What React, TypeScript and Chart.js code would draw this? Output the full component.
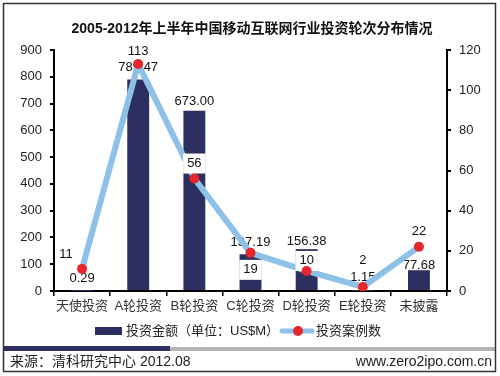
import React, { useEffect, useRef } from "react";
import { Chart, registerables } from "chart.js";

Chart.register(...registerables);

const title = "2005-2012年上半年中国移动互联网行业投资轮次分布情况";
const categories = ["天使投资", "A轮投资", "B轮投资", "C轮投资", "D轮投资", "E轮投资", "未披露"];
const amounts = [0.29, 789.47, 673.0, 137.19, 156.38, 1.15, 77.68];
const cases = [11, 113, 56, 19, 10, 2, 22];
const amountLabel = "投资金额（单位：US$M）";
const casesLabel = "投资案例数";
const leftMax = 900;
const leftStep = 100;
const rightMax = 120;
const rightStep = 20;
const sourceText = "来源：清科研究中心 2012.08";
const siteText = "www.zero2ipo.com.cn";

// label offsets (style only)
const barLabelDy = [-13, -12, -9, -12, -8, -13, -5];
const lineLabelDx = [-16, 0, 0, 0, 0, 0, 0];
const lineLabelDy = [-14, -13, -15, 17, -10, -27, -15];

const FONT = '"Liberation Sans", Arial, "Noto Sans CJK SC", sans-serif';
const NAVY = "#2c2f5f";
const BLUE = "#8ec1e8";
const RED = "#e5262b";

export default function App() {
  const ref = useRef<HTMLCanvasElement | null>(null);

  useEffect(() => {
    const canvas = ref.current;
    if (!canvas) return;

    const decor = {
      id: "decor",
      beforeDraw(chart: any) {
        const ctx = chart.ctx;
        ctx.save();
        ctx.fillStyle = "#fff";
        ctx.fillRect(0, 0, chart.width, chart.height);
        ctx.restore();
      },
      afterDatasetDraw(chart: any, args: any) {
        const ctx = chart.ctx;
        if (args.index === 0) {
          const meta = chart.getDatasetMeta(0);
          ctx.save();
          ctx.font = `13px ${FONT}`;
          ctx.fillStyle = "#111";
          ctx.textAlign = "center";
          ctx.textBaseline = "middle";
          meta.data.forEach((el: any, i: number) => {
            ctx.fillText(amounts[i].toFixed(2), el.x, el.y + barLabelDy[i]);
          });
          ctx.restore();
        }
        if (args.index === 1) {
          const meta = chart.getDatasetMeta(1);
          ctx.save();
          ctx.font = `13px ${FONT}`;
          ctx.textAlign = "center";
          ctx.textBaseline = "middle";
          meta.data.forEach((el: any, i: number) => {
            const t = String(cases[i]);
            const x = el.x + lineLabelDx[i];
            const y = el.y + lineLabelDy[i];
            const w = ctx.measureText(t).width + 8;
            ctx.fillStyle = "#fff";
            ctx.fillRect(x - w / 2, y - 10, w, 20);
            ctx.fillStyle = "#111";
            ctx.fillText(t, x, y);
          });
          ctx.restore();
        }
      },
      afterDraw(chart: any) {
        const ctx = chart.ctx;
        ctx.save();
        // title
        ctx.font = `bold 14px ${FONT}`;
        ctx.fillStyle = "#111";
        ctx.textAlign = "center";
        ctx.textBaseline = "middle";
        ctx.fillText(title, 252, 29);

        // legend
        ctx.textAlign = "left";
        ctx.font = `13px ${FONT}`;
        ctx.fillStyle = NAVY;
        ctx.fillRect(95, 327, 27, 8);
        ctx.fillStyle = "#222";
        ctx.fillText(amountLabel, 126, 331);
        ctx.strokeStyle = BLUE;
        ctx.lineWidth = 5;
        ctx.lineCap = "round";
        ctx.beginPath();
        ctx.moveTo(282, 331);
        ctx.lineTo(312, 331);
        ctx.stroke();
        ctx.fillStyle = RED;
        ctx.beginPath();
        ctx.arc(298, 331, 5, 0, Math.PI * 2);
        ctx.fill();
        ctx.fillStyle = "#222";
        ctx.fillText(casesLabel, 316, 331);

        // footer bar
        ctx.fillStyle = "#b3b3b3";
        ctx.fillRect(3, 347, 492, 4);
        ctx.fillStyle = NAVY;
        ctx.fillRect(3, 346, 167, 5);

        // footer text
        ctx.fillStyle = "#222";
        ctx.font = `14px ${FONT}`;
        ctx.textAlign = "left";
        ctx.fillText(sourceText, 10, 362);
        ctx.textAlign = "right";
        ctx.fillText(siteText, 492, 362);

        // outer frame
        ctx.strokeStyle = "#333";
        ctx.lineWidth = 1.5;
        ctx.strokeRect(3.5, 3.5, 492, 368);
        ctx.restore();
      },
    };

    const chart = new Chart(canvas, {
      type: "bar",
      data: {
        labels: categories,
        datasets: [
          {
            type: "bar",
            label: amountLabel,
            data: amounts,
            backgroundColor: NAVY,
            yAxisID: "y",
            order: 3,
            categoryPercentage: 1,
            barPercentage: 0.39,
          } as any,
          {
            type: "line",
            label: casesLabel,
            data: cases,
            borderColor: BLUE,
            borderWidth: 6,
            pointRadius: 0,
            tension: 0,
            yAxisID: "y1",
            order: 2,
          } as any,
          {
            type: "line",
            label: casesLabel,
            data: cases,
            showLine: false,
            pointRadius: 5,
            pointBackgroundColor: RED,
            pointBorderWidth: 0,
            pointBorderColor: RED,
            yAxisID: "y1",
            order: 1,
          } as any,
        ],
      },
      options: {
        responsive: false,
        animation: false,
        layout: { padding: { left: 0, right: 0, top: 50, bottom: 55 } },
        plugins: {
          legend: { display: false },
          title: { display: false },
          tooltip: { enabled: false },
        },
        scales: {
          x: {
            afterFit: (s: any) => {
              s.height = 30;
            },
            grid: {
              display: true,
              drawOnChartArea: false,
              drawTicks: true,
              tickLength: 5,
              color: "#000",
              lineWidth: 1.5,
              offset: true,
            },
            border: { display: true, color: "#000", width: 2 },
            ticks: {
              color: "#333",
              font: { size: 13, family: FONT },
              padding: 3,
              maxRotation: 0,
              autoSkip: false,
            },
          },
          y: {
            position: "left",
            min: 0,
            max: leftMax,
            afterFit: (s: any) => {
              s.width = 54;
            },
            grid: {
              display: true,
              drawOnChartArea: false,
              drawTicks: true,
              tickLength: 4,
              color: "#000",
              lineWidth: 2,
            },
            border: { display: true, color: "#000", width: 2 },
            ticks: {
              stepSize: leftStep,
              color: "#222",
              font: { size: 13, family: FONT },
              padding: 8,
            },
          },
          y1: {
            position: "right",
            min: 0,
            max: rightMax,
            afterFit: (s: any) => {
              s.width = 53;
            },
            grid: {
              display: true,
              drawOnChartArea: false,
              drawTicks: true,
              tickLength: 4,
              color: "#000",
              lineWidth: 2,
            },
            border: { display: true, color: "#000", width: 2 },
            ticks: {
              stepSize: rightStep,
              color: "#222",
              font: { size: 13, family: FONT },
              padding: 8,
            },
          },
        },
      },
      plugins: [decor],
    });

    return () => {
      chart.destroy();
    };
  }, []);

  return (
    <div style={{ position: "absolute", left: 0, top: 0, width: 500, height: 376 }}>
      <canvas ref={ref} width={500} height={376} style={{ display: "block" }} />
    </div>
  );
}
